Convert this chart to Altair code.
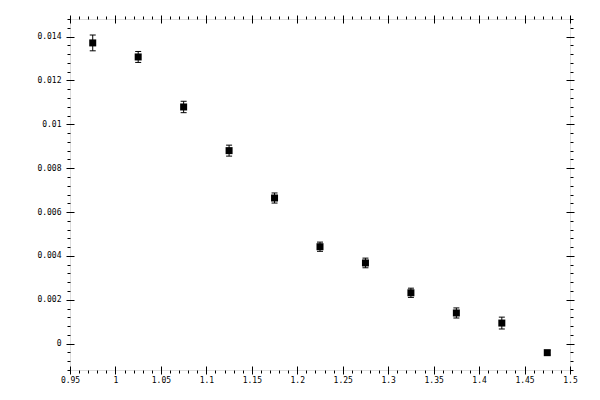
import altair as alt
import numpy as np
import pandas as pd

# data
x_vals = [0.975, 1.025, 1.075, 1.125, 1.175, 1.225, 1.275, 1.325, 1.375, 1.425, 1.475]
y_vals = [0.01371, 0.01307, 0.01079, 0.00880, 0.00664, 0.00442, 0.00368, 0.00232, 0.00140, 0.00094, -0.00041]
y_err = [0.00036, 0.00025, 0.00026, 0.00025, 0.00023, 0.00021, 0.00022, 0.00021, 0.00023, 0.00027, 0.00010]

x_major = [0.95, 1.0, 1.05, 1.1, 1.15, 1.2, 1.25, 1.3, 1.35, 1.4, 1.45, 1.5]
y_major = [0.0, 0.002, 0.004, 0.006, 0.008, 0.01, 0.012, 0.014]

x_domain = [0.95, 1.5]
y_domain = [-0.0012, 0.0148]

x_minor = [round(v, 4) for v in np.arange(0.95, 1.5001, 0.01)
           if min(abs(v - m) for m in x_major) > 1e-6]
y_minor = [round(v, 5) for v in np.arange(-0.0012, 0.01481, 0.0004)
           if min(abs(v - m) for m in y_major) > 1e-7]

df = pd.DataFrame({
    "x": x_vals,
    "y": y_vals,
    "lo": [a - b for a, b in zip(y_vals, y_err)],
    "hi": [a + b for a, b in zip(y_vals, y_err)],
})

FONT = "DejaVu Sans Mono"


def ax(orient, values, size, offset=0, labels=False, pad=0):
    kw = dict(orient=orient, values=values, tickSize=size, domain=False, grid=False,
              labels=labels, tickColor="black", tickWidth=1, title=None)
    if offset:
        kw["offset"] = offset
    if labels:
        kw.update(format="~g", labelFont=FONT, labelFontSize=8, labelColor="black",
                  labelPadding=pad, labelFlush=False, labelOverlap=False)
    return alt.Axis(**kw)


xs = alt.Scale(domain=x_domain, nice=False, zero=False)
ys = alt.Scale(domain=y_domain, nice=False, zero=False)

base = alt.Chart(df)

squares = base.mark_square(size=49, color="black", opacity=1).encode(
    x=alt.X("x:Q", scale=xs, axis=ax("bottom", x_major, 8, -4, True, 2)),
    y=alt.Y("y:Q", scale=ys, axis=ax("left", y_major, 8, -4, True, 5)),
)

rules = base.mark_rule(color="black", strokeWidth=1).encode(
    x=alt.X("x:Q", scale=xs, axis=ax("bottom", x_minor, 3)),
    y=alt.Y("lo:Q", scale=ys, axis=ax("left", y_minor, 3)),
    y2="hi:Q",
)

caps_lo = base.mark_tick(orient="horizontal", size=6, thickness=1, color="black", opacity=1).encode(
    x=alt.X("x:Q", scale=xs, axis=ax("top", x_major, 8, -4)),
    y=alt.Y("lo:Q", scale=ys, axis=ax("right", y_major, 8, -4)),
)

caps_hi = base.mark_tick(orient="horizontal", size=6, thickness=1, color="black", opacity=1).encode(
    x=alt.X("x:Q", scale=xs, axis=ax("top", x_minor, 3)),
    y=alt.Y("hi:Q", scale=ys, axis=ax("right", y_minor, 3)),
)

chart = alt.layer(rules, caps_lo, caps_hi, squares).resolve_axis(
    x="independent", y="independent"
).properties(
    width=500,
    height=351,
    autosize=alt.AutoSizeParams(type="none"),
    padding={"left": 62, "top": 11, "right": 20, "bottom": 20},
).configure_view(stroke="black", strokeWidth=1).configure(background="white")

chart.save("out.html", embed_options={"renderer": "svg", "actions": False})
